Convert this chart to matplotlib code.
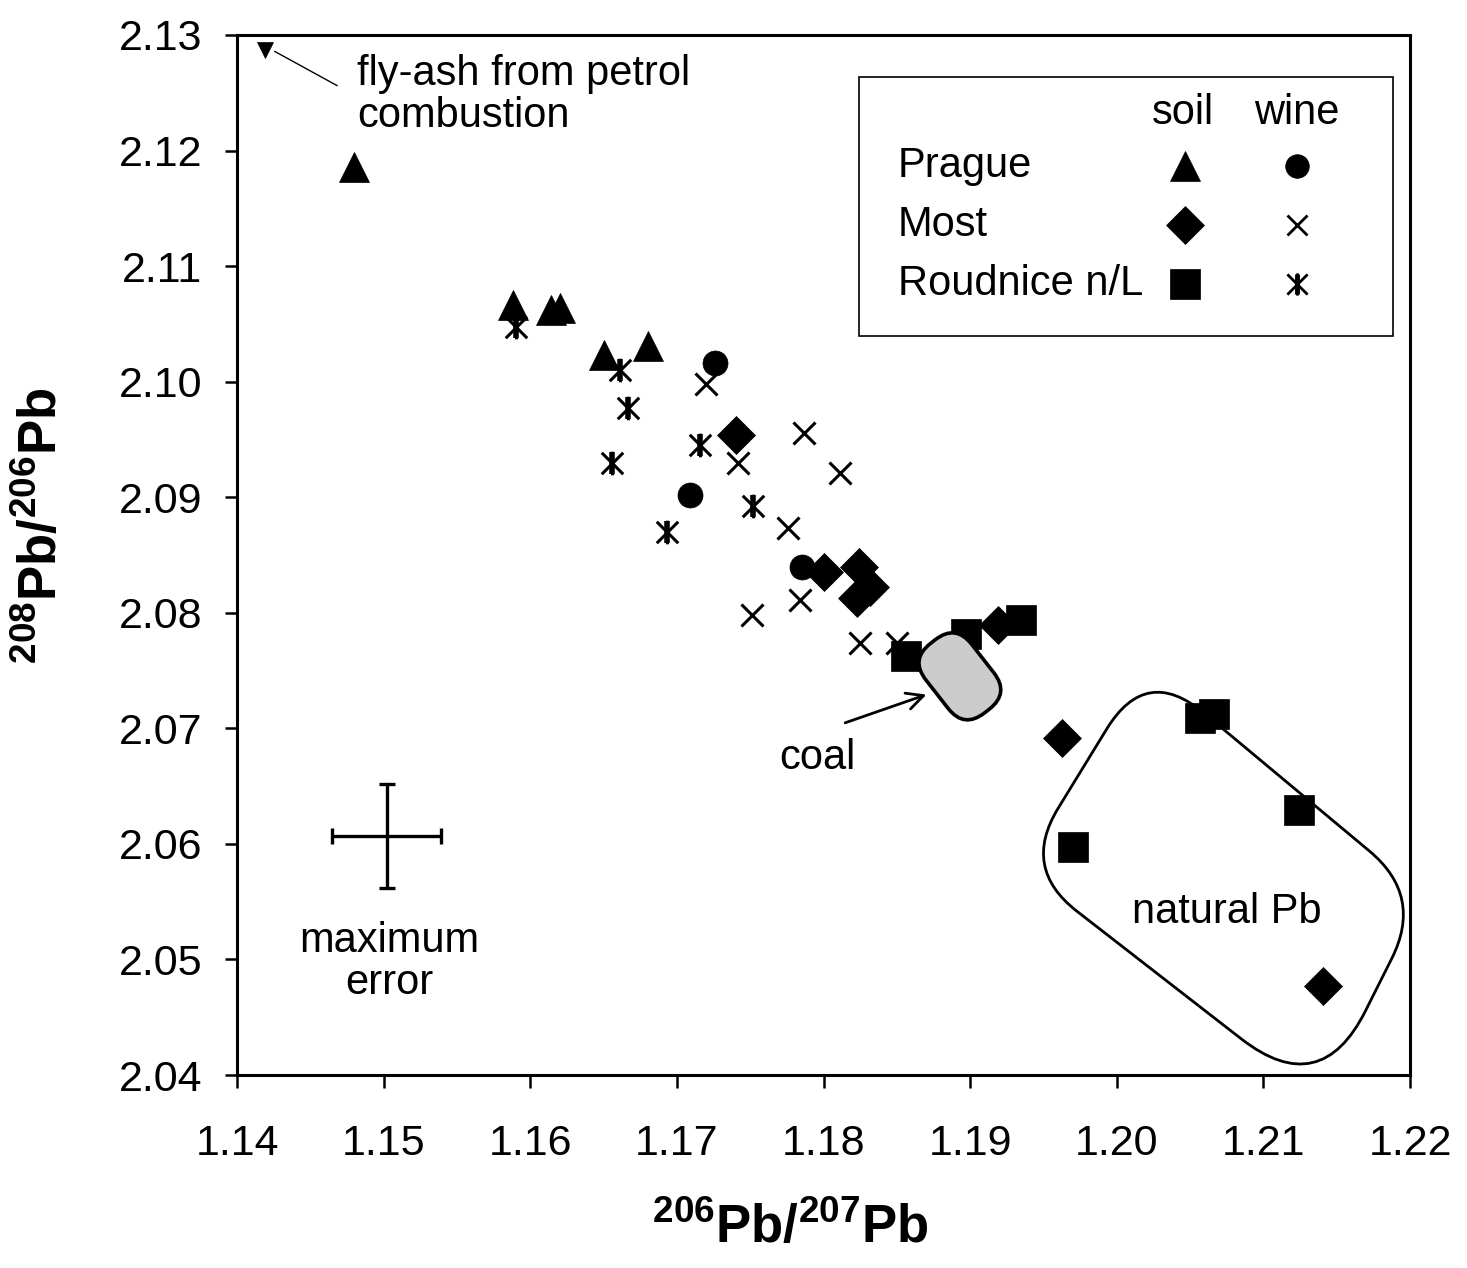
import numpy as np
import matplotlib
matplotlib.use('Agg')
import matplotlib.pyplot as plt
from matplotlib.path import Path
from matplotlib.patches import PathPatch, Rectangle
from matplotlib.ticker import FormatStrFormatter, MultipleLocator

matplotlib.rcParams['font.family'] = 'Liberation Sans'
matplotlib.rcParams['mathtext.fontset'] = 'custom'
matplotlib.rcParams['mathtext.rm'] = 'Liberation Sans'
matplotlib.rcParams['mathtext.bf'] = 'Liberation Sans:bold'

# --- data: 206Pb/207Pb (x) and 208Pb/206Pb (y) ---
prague_soil_x = [1.1480, 1.1588, 1.1614, 1.1620, 1.1650, 1.1680]
prague_soil_y = [2.1186, 2.1066, 2.1062, 2.1064, 2.1023, 2.1031]

prague_wine_x = [1.1726, 1.1709, 1.1785]
prague_wine_y = [2.1016, 2.0902, 2.0840]

most_soil_x = [1.1740, 1.1800, 1.1824, 1.1832, 1.1823, 1.1919, 1.1963, 1.2141]
most_soil_y = [2.0954, 2.0835, 2.0840, 2.0822, 2.0813, 2.0789, 2.0692, 2.0477]

most_wine_x = [1.1720, 1.1742, 1.1787, 1.1811, 1.1776, 1.1784, 1.1751, 1.1825, 1.1850]
most_wine_y = [2.0998, 2.0930, 2.0956, 2.0921, 2.0873, 2.0811, 2.0798, 2.0774, 2.0774]

roudnice_soil_x = [1.1856, 1.1897, 1.1935, 1.2057, 1.2066, 1.2124, 1.1970]
roudnice_soil_y = [2.0763, 2.0782, 2.0794, 2.0709, 2.0712, 2.0629, 2.0597]

roudnice_wine_x = [1.1590, 1.1661, 1.1667, 1.1656, 1.1716, 1.1752, 1.1693]
roudnice_wine_y = [2.1047, 2.1010, 2.0977, 2.0930, 2.0945, 2.0892, 2.0870]

flyash_x = [1.1419]
flyash_y = [2.1287]

# maximum error cross
err_x, err_y = 1.1502, 2.0607
err_dx, err_dy = 0.0037, 0.0045

# outlines (data coords)
natural_pb_corners = [(1.2020, 2.0755), (1.2209, 2.0555), (1.2139, 2.0378), (1.1935, 2.0579)]
natural_pb_cuts = [75, 70, 100, 70]   # corner rounding, px
coal_center = (1.1893, 2.0745)

xmin, xmax = 1.14, 1.22
ymin, ymax = 2.04, 2.13

W, H = 1467, 1268
fig = plt.figure(figsize=(W / 100, H / 100), dpi=100)
L, R, T, B = 237, 1410, 35, 1075
ax = fig.add_axes([L / W, (H - B) / H, (R - L) / W, (B - T) / H])
ax.set_xlim(xmin, xmax)
ax.set_ylim(ymin, ymax)

sx = (R - L) / (xmax - xmin)   # px per unit
sy = (B - T) / (ymax - ymin)

def to_px(p):
    return np.array([(p[0] - xmin) * sx, (p[1] - ymin) * sy])

def to_data(q):
    return (q[0] / sx + xmin, q[1] / sy + ymin)

def rounded_path(corners_px, cuts):
    pts = [np.asarray(c, float) for c in corners_px]
    n = len(pts)
    verts, codes = [], []
    for i in range(n):
        p0, p1, p2 = pts[i - 1], pts[i], pts[(i + 1) % n]
        c = cuts[i]
        a = p1 + (p0 - p1) / np.linalg.norm(p0 - p1) * c
        b = p1 + (p2 - p1) / np.linalg.norm(p2 - p1) * c
        verts.append(a)
        codes.append(Path.MOVETO if i == 0 else Path.LINETO)
        verts += [p1, b]
        codes += [Path.CURVE3, Path.CURVE3]
    verts.append(verts[0])
    codes.append(Path.CLOSEPOLY)
    return Path([to_data(v) for v in verts], codes)

# natural Pb field
np_path = rounded_path([to_px(c) for c in natural_pb_corners], natural_pb_cuts)
ax.add_patch(PathPatch(np_path, facecolor='none', edgecolor='k', lw=2.0,
                       zorder=2, clip_on=False))

# coal field: rounded rectangle rotated
cc = to_px(coal_center)
ang = np.deg2rad(-52)
u = np.array([np.cos(ang), np.sin(ang)])
v = np.array([-u[1], u[0]])
a_len, b_len, rad = 44, 29, 26
coal_corners = [cc - a_len * u + b_len * v, cc + a_len * u + b_len * v,
                cc + a_len * u - b_len * v, cc - a_len * u - b_len * v]
coal_path = rounded_path(coal_corners, [rad] * 4)
ax.add_patch(PathPatch(coal_path, facecolor='#cccccc', edgecolor='k', lw=2.6, zorder=6))

# asterisk marker
star = Path([(-1, -1), (1, 1), (-1, 1), (1, -1), (0, -1.1), (0, 1.1)],
            [Path.MOVETO, Path.LINETO, Path.MOVETO, Path.LINETO, Path.MOVETO, Path.LINETO])

mk = dict(ls='none', color='k', zorder=4)
ax.plot(prague_soil_x, prague_soil_y, marker='^', ms=21, mew=0.5, **mk)
ax.plot(prague_wine_x, prague_wine_y, marker='o', ms=18, mew=0.5, **mk)
ax.plot(most_soil_x, most_soil_y, marker='D', ms=19, mew=0.5, **mk)
ax.plot(most_wine_x, most_wine_y, marker='x', ms=16, mew=2.2, **mk)
ax.plot(roudnice_soil_x, roudnice_soil_y, marker='s', ms=21, mew=0.5, **mk)
ax.plot(roudnice_wine_x, roudnice_wine_y, marker=star, ms=17, mew=2.2, **mk)
ax.plot(roudnice_wine_x, roudnice_wine_y, marker='|', ms=16, mew=4, **mk)
ax.plot(flyash_x, flyash_y, marker='v', ms=11, mew=0.5, clip_on=False, **mk)

# annotations
ax.annotate('', xy=(1.1424, 2.1287), xytext=(1.1470, 2.1255),
            arrowprops=dict(arrowstyle='-', lw=1.0, color='k'))
ax.text(1.1482, 2.1248, 'fly-ash from petrol\ncombustion', fontsize=30,
        ha='left', va='center', linespacing=1.05)

ax.annotate('', xy=(1.1872, 2.0730), xytext=(1.1813, 2.0704),
            arrowprops=dict(arrowstyle='->', lw=2.0, color='k', mutation_scale=30))
ax.text(1.1796, 2.0674, 'coal', fontsize=30, ha='center', va='center')
ax.text(1.2075, 2.0541, 'natural Pb', fontsize=30, ha='center', va='center')

ax.errorbar([err_x], [err_y], xerr=[err_dx], yerr=[err_dy], fmt='none',
            ecolor='k', elinewidth=2.4, capsize=6, capthick=2.4)
ax.text(1.1504, 2.0498, 'maximum\nerror', fontsize=30, ha='center', va='center',
        linespacing=1.05)

# legend box, drawn by hand
ax.add_patch(Rectangle((0.530, 0.7106), 0.4555, 0.249, transform=ax.transAxes,
                       facecolor='white', edgecolor='k', lw=1.2, zorder=7))
lt = dict(transform=ax.transAxes, fontsize=30, zorder=8)
ax.text(0.8065, 0.925, 'soil', ha='center', va='center', **lt)
ax.text(0.9037, 0.925, 'wine', ha='center', va='center', **lt)
row_y = [0.874, 0.817, 0.761]
for name, yy in zip(['Prague', 'Most', 'Roudnice n/L'], row_y):
    ax.text(0.5635, yy, name, ha='left', va='center', **lt)
lm = dict(transform=ax.transAxes, ls='none', color='k', zorder=8, clip_on=False)
ax.plot([0.808], [row_y[0]], marker='^', ms=21, mew=0.5, **lm)
ax.plot([0.904], [row_y[0]], marker='o', ms=17, mew=0.5, **lm)
ax.plot([0.808], [row_y[1]], marker='D', ms=19, mew=0.5, **lm)
ax.plot([0.904], [row_y[1]], marker='x', ms=15, mew=2.0, **lm)
ax.plot([0.808], [row_y[2]], marker='s', ms=21, mew=0.5, **lm)
ax.plot([0.904], [row_y[2]], marker=star, ms=16, mew=2.0, **lm)
ax.plot([0.904], [row_y[2]], marker='|', ms=15, mew=3.5, **lm)

# axes styling
for s in ax.spines.values():
    s.set_linewidth(2.2)
ax.xaxis.set_major_locator(MultipleLocator(0.01))
ax.yaxis.set_major_locator(MultipleLocator(0.01))
ax.xaxis.set_major_formatter(FormatStrFormatter('%.2f'))
ax.yaxis.set_major_formatter(FormatStrFormatter('%.2f'))
ax.tick_params(axis='both', direction='out', length=9, width=1.8, labelsize=31)
ax.tick_params(axis='x', pad=26)
ax.tick_params(axis='y', pad=16)

fig.text(790 / W, 1 - 1228 / H, r'$\mathbf{{}^{206}Pb/{}^{207}Pb}$', fontsize=38,
         ha='center', va='center')
fig.text(42 / W, 1 - 526 / H, r'$\mathbf{{}^{208}Pb/{}^{206}Pb}$', fontsize=38,
         ha='center', va='center', rotation=90)

fig.savefig('out.png', dpi=100, facecolor='white')
